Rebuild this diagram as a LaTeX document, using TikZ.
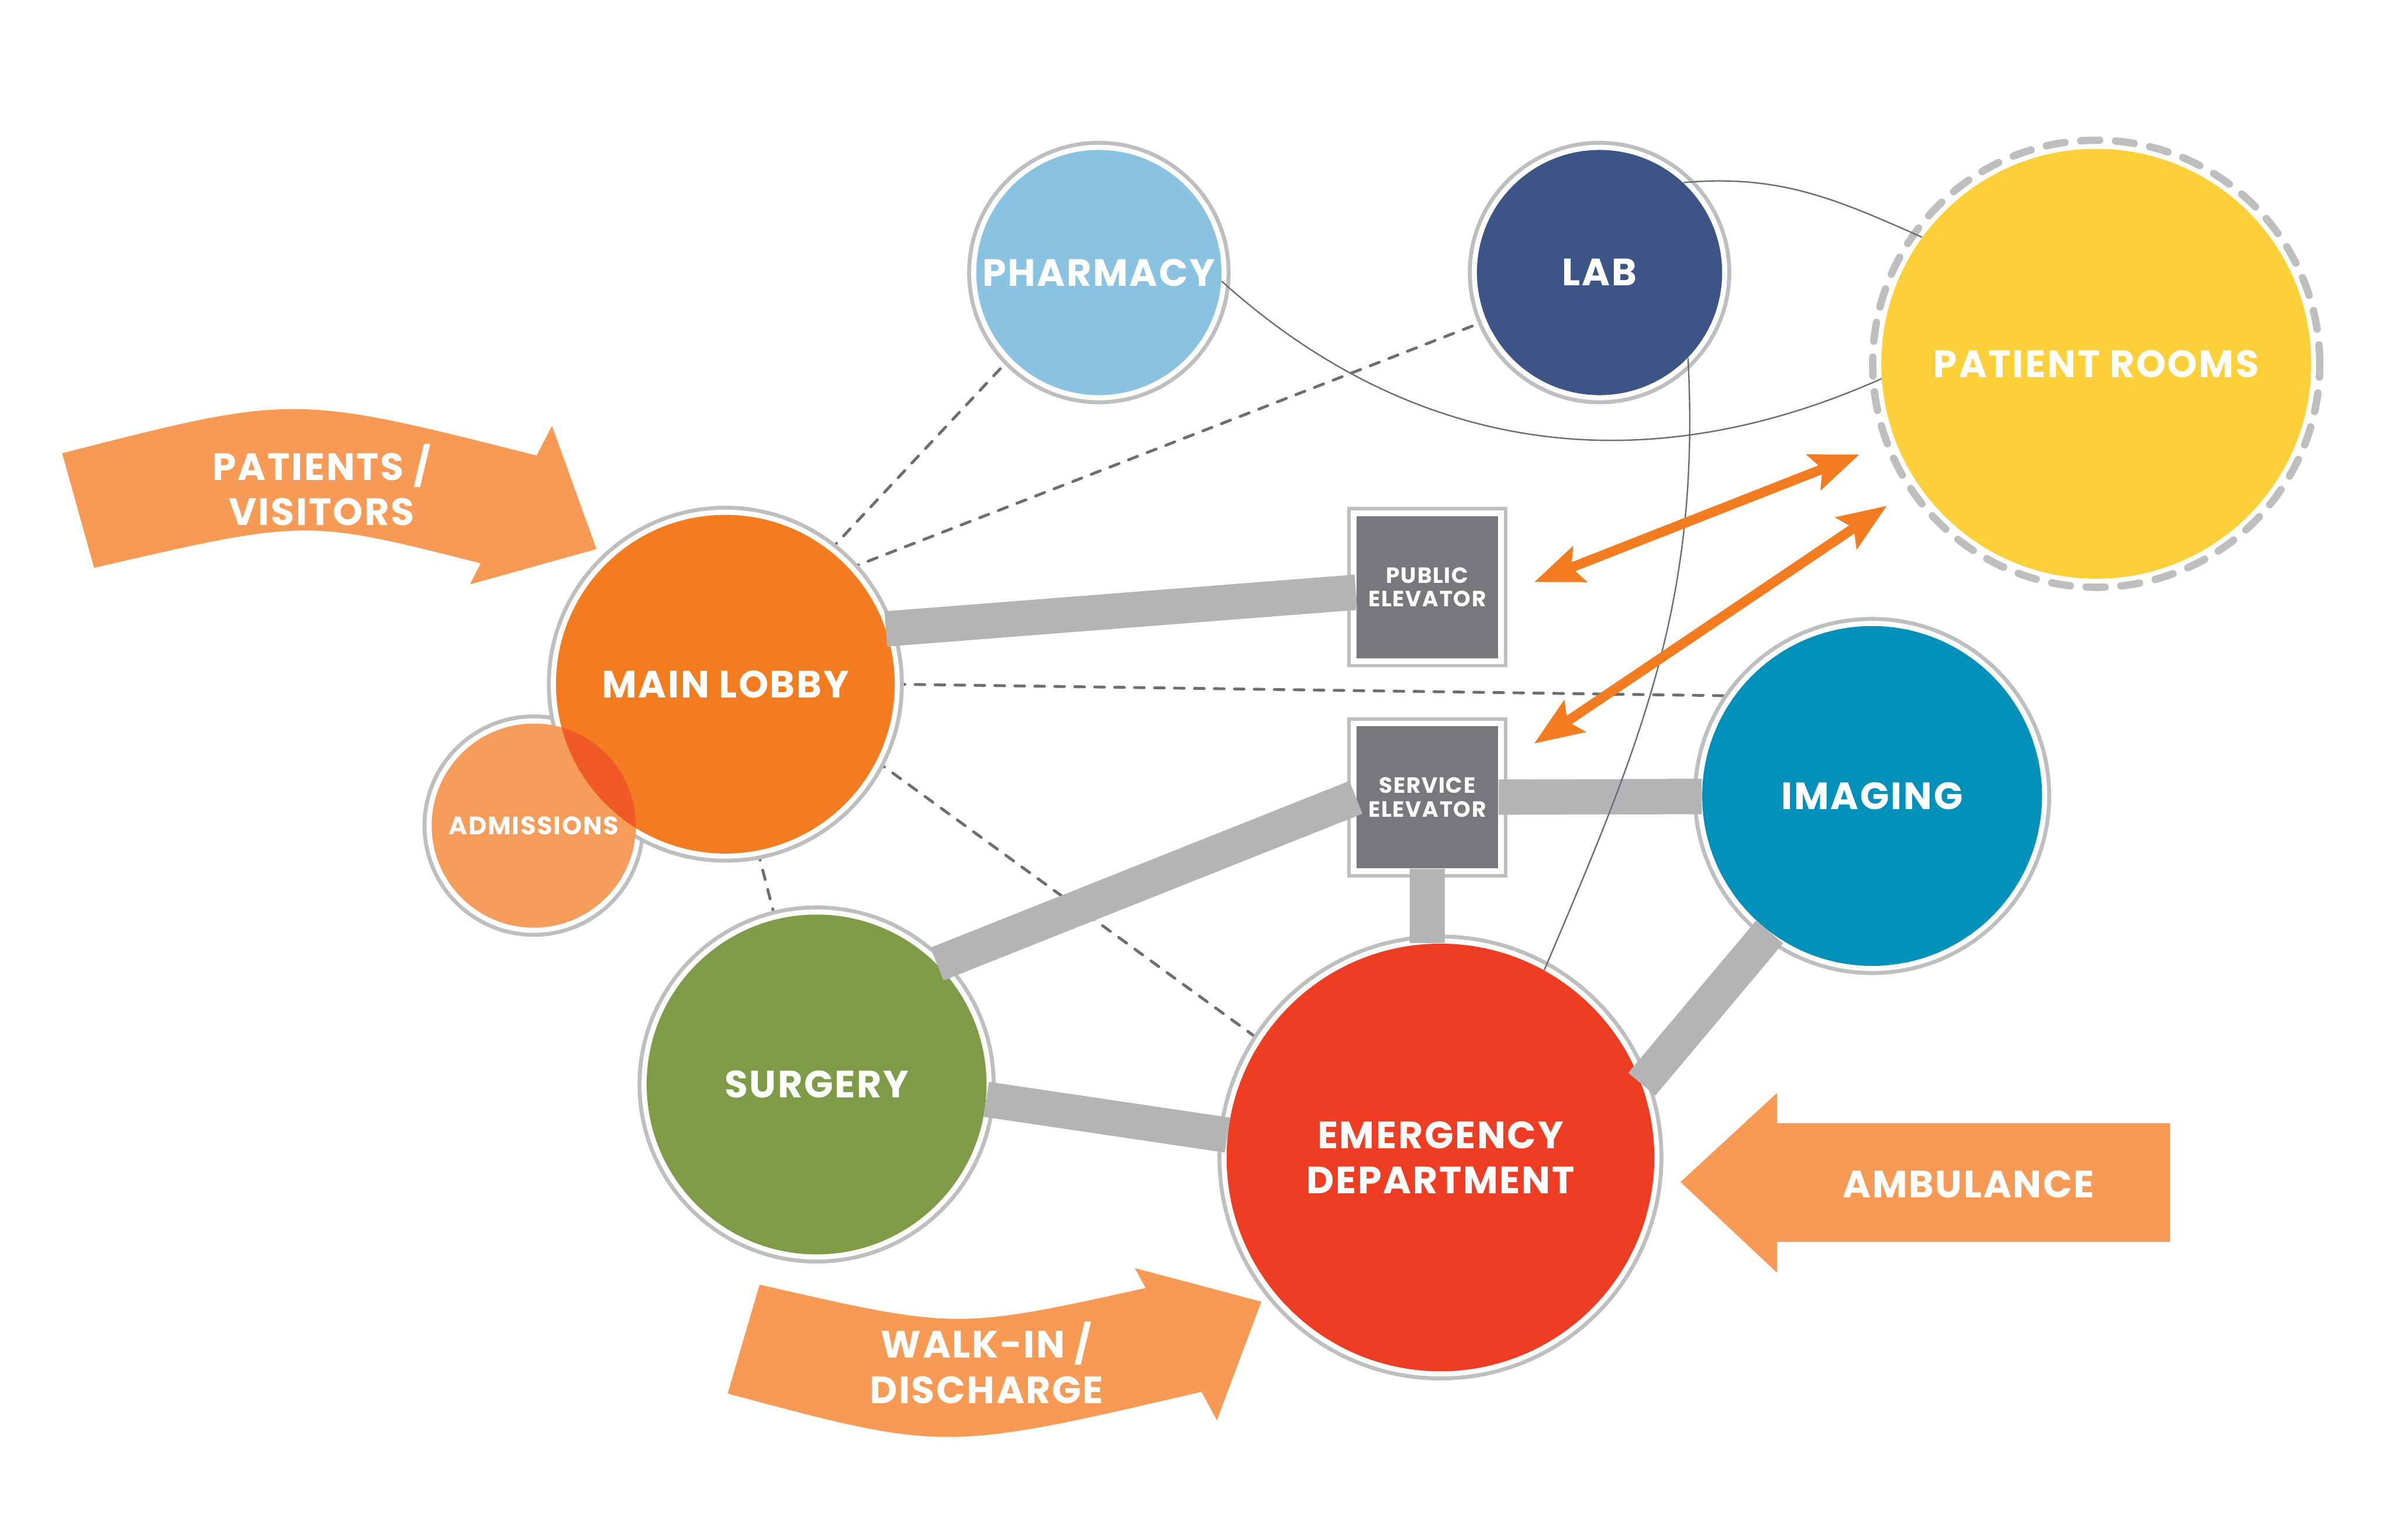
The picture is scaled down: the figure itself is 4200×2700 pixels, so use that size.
\documentclass[tikz,border=0pt]{standalone}
\usepackage{fontspec}
\setmainfont{Poppins}[LetterSpace=4]
\usetikzlibrary{arrows.meta,positioning,calc,backgrounds}
\definecolor{ringgray}{HTML}{BCBEC0}
\definecolor{bandgray}{HTML}{B3B4B6}
\definecolor{linkgray}{HTML}{6D6E71}
\definecolor{elevgray}{HTML}{77787B}
\definecolor{pharmblue}{HTML}{89C3E1}
\definecolor{labblue}{HTML}{3C5586}
\definecolor{roomyellow}{HTML}{FDD03A}
\definecolor{lobbyorange}{HTML}{F37B20}
\definecolor{admorange}{HTML}{F69C5A}
\definecolor{overlaporange}{HTML}{EF5A26}
\definecolor{surggreen}{HTML}{7E9B48}
\definecolor{erred}{HTML}{EE3D23}
\definecolor{imgblue}{HTML}{0190BA}
\definecolor{blockorange}{HTML}{F69A55}
\tikzset{
  % Department: filled disc, white gap, grey outer ring
  dept/.style={circle, fill=#1, inner sep=0pt, text=white, align=center,
               font=\bfseries\fontsize{19pt}{22.5pt}\selectfont},
  dept-ring/.style={dept=#1,
               preaction={draw=ringgray, line width=3.2mm},
               preaction={draw=white, line width=1.8mm}},
  % Elevator core: grey square with framed border
  elev/.style={rectangle, fill=elevgray, minimum size=24.9mm, inner sep=0pt,
               text=white, align=center, font=\bfseries\fontsize{11pt}{11.7pt}\selectfont,
               preaction={draw=ringgray, line width=3.2mm},
               preaction={draw=white, line width=2.0mm}},
  ringdash/.style={draw=ringgray, line width=1.3mm, dash pattern=on 3.3mm off 2.8mm, line cap=round},
  % Links
  band/.style={draw=bandgray, line width=6.2mm},
  dashlink/.style={draw=linkgray, line width=0.5mm, dash pattern=on 1.7mm off 1.8mm, line cap=round},
  thinlink/.style={draw=linkgray, line width=0.25mm},
  flowbi/.style={draw=lobbyorange, line width=1.7mm, <->,
                 >={Stealth[length=8.5mm, width=6.5mm, inset=1.5mm]}},
  % Entry arrows
  entry/.style={fill=blockorange},
  entrytext/.style={text=white, align=center, font=\bfseries\fontsize{19pt}{22.5pt}\selectfont}
}
\begin{document}
\begin{tikzpicture}[x=0.1mm, y=0.1mm]
\useasboundingbox (0,0) rectangle (4200,2700);

% Departments
\node[dept-ring=pharmblue, minimum size=43mm] (pharm) at (1927,2222) {PHARMACY};
\node[dept-ring=labblue, minimum size=43mm] (lab) at (2805,2222) {LAB};
\node[dept=roomyellow, minimum size=75.4mm] (rooms) at (3676,2062) {PATIENT ROOMS};
\draw[ringdash] (rooms.center) circle (392);

% Admissions ring first, so lobby and admissions share one outline
\coordinate (admc) at (936,1252);
\fill[ringgray] (admc) circle (195);
\fill[white] (admc) circle (188);
\node[dept-ring=lobbyorange, minimum size=59.4mm] (lobby) at (1272,1500) {MAIN LOBBY};
\node[dept=admorange, minimum size=35.8mm, font=\bfseries\fontsize{12.6pt}{15pt}\selectfont,
      path picture={\fill[overlaporange] (lobby.center) circle (297);}] (adm) at (admc) {ADMISSIONS};

\node[dept-ring=surggreen, minimum size=59.6mm] (surg) at (1432,798) {SURGERY};
\node[dept-ring=erred, minimum size=75mm] (er) at (2526,670) {EMERGENCY\\DEPARTMENT};
\node[dept-ring=imgblue, minimum size=59.6mm] (img) at (3283,1304) {IMAGING};

% Elevators
\node[elev] (pubelev) at (2503,1670) {PUBLIC\\ELEVATOR};
\node[elev, below=11.8mm of pubelev] (servelev) {SERVICE\\ELEVATOR};

% Adjacency (dashed, behind the rings)
\begin{scope}[on background layer]
\draw[dashlink] (lobby.52) -- (pharm.224);
\draw[dashlink] (lobby.43) -- (lab.203);
\draw[dashlink] (lobby.0) -- (img.144);
\draw[dashlink] (lobby.-27) -- (er.147);
\draw[dashlink] (lobby.-79) -- (surg.104);
\end{scope}

% Main circulation
\draw[band] (lobby.19.5) -- (pubelev.184);
\draw[band] (surg.45) -- (servelev.west);
\draw[band] (surg.-5) -- (er.174);
\draw[band] (servelev) -- (img);
\draw[band] (servelev.south) -- (servelev.south |- er.north);
\draw[band] (er.20) -- (img.233);

% Support links
\draw[thinlink] (pharm.-4.5) to[out=-42, in=204] (rooms.-176.4);
\draw[thinlink] (lab.47) to[out=5, in=156] (rooms.144);
\draw[thinlink] (lab.-44) to[out=-87, in=67] (er.61);

% Vertical travel to patient rooms
\coordinate (pubtip) at ([shift={(62,9)}]pubelev.east);
\coordinate (servtip) at ([shift={(62,-31)}]servelev.north east);
\coordinate (roomtipa) at ([shift={(-415,-159)}]rooms.center);
\coordinate (roomtipb) at ([shift={(-367,-249)}]rooms.center);
\draw[flowbi] (pubtip) -- (roomtipa);
\draw[flowbi] (servtip) -- (roomtipb);

% Entries
\fill[entry] (109,1905) .. controls (515,2009) .. (941,1901) -- (968,1953) -- (1046,1737)
  -- (824,1675) -- (843,1712) .. controls (536,1790) .. (165,1704) -- cycle;
\node[entrytext] (patvis) at (564,1850) {PATIENTS /\\VISITORS};

\fill[entry] (1332,447) .. controls (1677,368) .. (2009,441) -- (1990,476) -- (2212,417)
  -- (2134,209) -- (2107,259) .. controls (1656,154) .. (1276,256) -- cycle;
\node[entrytext] (walkin) at (1730,310) {WALK-IN /\\DISCHARGE};

\fill[entry] (2947,627) -- (3116,783) -- (3116,730) -- (3805,730) -- (3805,522)
  -- (3116,522) -- (3116,468) -- cycle;
\node[entrytext] (amb) at (3452,623) {AMBULANCE};

\end{tikzpicture}
\end{document}
